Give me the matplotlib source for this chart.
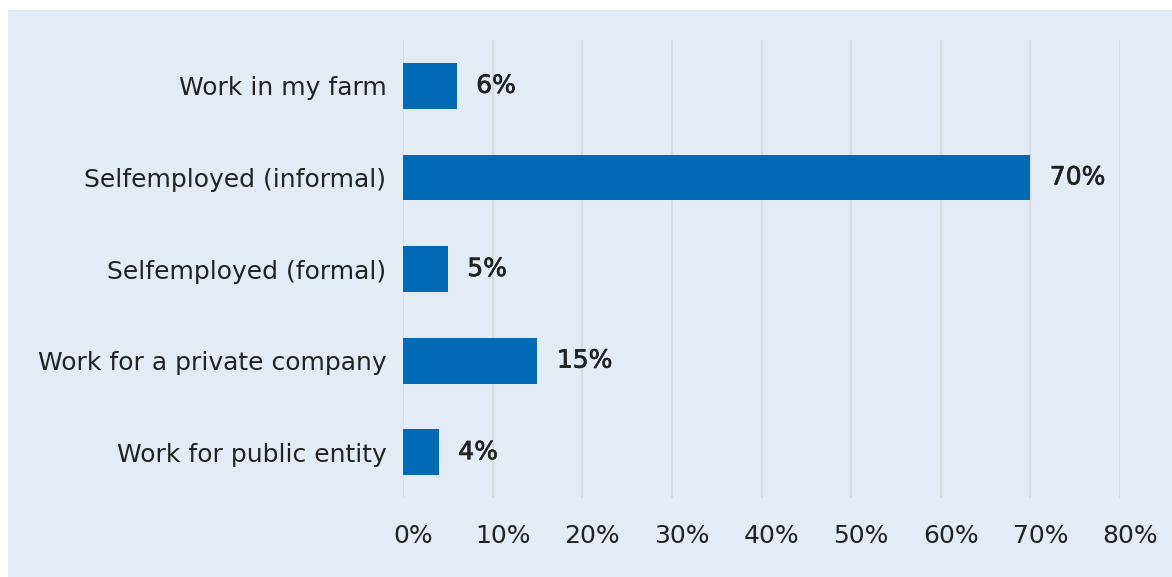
import matplotlib.pyplot as plt
import matplotlib.transforms as mtransforms
import matplotlib.patheffects as pe
from matplotlib.patches import Rectangle

categories = [
    "Work in my farm",
    "Selfemployed (informal)",
    "Selfemployed (formal)",
    "Work for a private company",
    "Work for public entity",
]
values = [6, 70, 5, 15, 4]
x_ticks = [0, 10, 20, 30, 40, 50, 60, 70, 80]
x_tick_labels = [f"{t}%" for t in x_ticks]

panel_color = "#e3ebf6"
bar_color = "#006ab4"
text_color = "#222222"
grid_color = "#d8dbe0"

plt.rcParams["font.family"] = ["DejaVu Sans"]

W, H = 1172, 577
fig = plt.figure(figsize=(W / 100, H / 100), dpi=100, facecolor="white")

# light panel behind the chart
fig.patches.append(Rectangle((8 / W, 0), 1 - 8 / W, 1 - 10 / H,
                             transform=fig.transFigure, facecolor=panel_color,
                             edgecolor="none", zorder=-10))

left, right, top, bottom = 403, 1120, 40, 498
ax = fig.add_axes([left / W, 1 - bottom / H, (right - left) / W, (bottom - top) / H])
ax.set_facecolor("none")

y = list(range(len(categories)))
ax.barh(y, values, height=0.5, color=bar_color, zorder=3)

medium = [pe.withStroke(linewidth=0.5, foreground=text_color)]
for yi, v in zip(y, values):
    ax.annotate(f"{v}%", (v, yi), xytext=(14, 0), textcoords="offset points",
                ha="left", va="center", fontsize=18, color=text_color,
                path_effects=medium)

ax.set_xlim(0, 80)
ax.set_ylim(len(categories) - 0.5, -0.5)
ax.set_xticks(x_ticks)
ax.set_xticklabels(x_tick_labels, fontsize=18, color=text_color)
ax.set_yticks(y)
ax.set_yticklabels(categories, fontsize=18, color=text_color)
ax.tick_params(axis="both", length=0)
ax.tick_params(axis="x", pad=19)
ax.tick_params(axis="y", pad=12)

# percentage labels sit slightly right of their gridlines
shift = mtransforms.ScaledTranslation(10 / 100, 0, fig.dpi_scale_trans)
for lbl in ax.get_xticklabels():
    lbl.set_transform(lbl.get_transform() + shift)

ax.grid(axis="x", color=grid_color, linewidth=1.5, zorder=0)
ax.grid(axis="y", visible=False)
for s in ax.spines.values():
    s.set_visible(False)

fig.savefig("out.png", dpi=100, facecolor="white")
